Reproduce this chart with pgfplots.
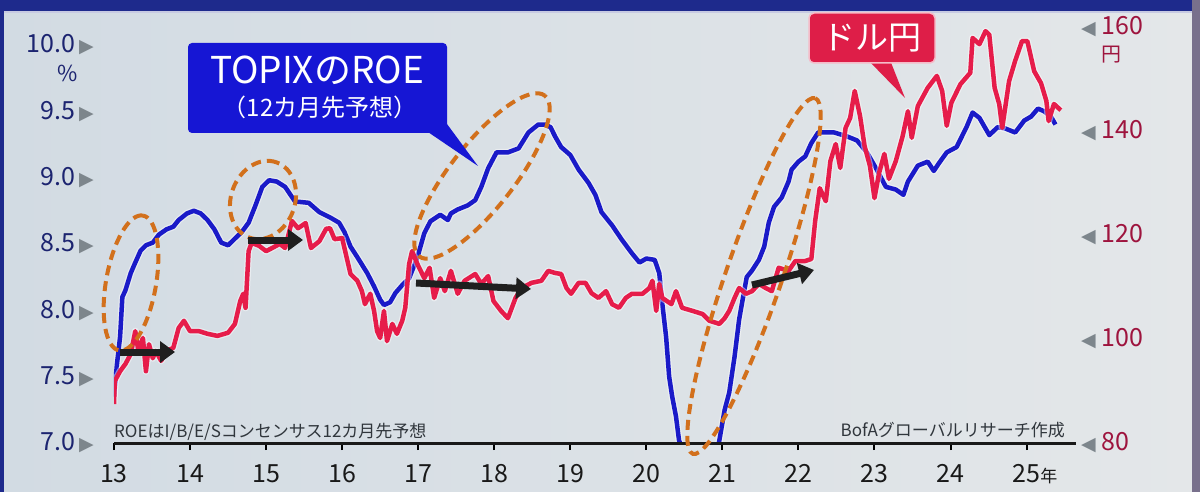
\documentclass[border=0pt]{standalone}
\usepackage{pgfplots}
\pgfplotsset{compat=1.18}
\usepackage{fontspec}
\setmainfont{Noto Sans CJK JP}
\newfontfamily\dejavu{DejaVu Sans}
\usetikzlibrary{arrows.meta}

\definecolor{roeblue}{RGB}{26,26,200}
\definecolor{yenred}{RGB}{230,28,74}
\definecolor{dashorange}{RGB}{210,112,28}
\definecolor{boxblue}{RGB}{22,22,212}
\definecolor{boxred}{RGB}{222,30,72}
\definecolor{bgl}{RGB}{210,219,227}
\definecolor{bgr}{RGB}{228,231,233}
\definecolor{navy}{RGB}{28,36,112}
\definecolor{maroon}{RGB}{158,20,62}
\definecolor{trigray}{RGB}{125,134,140}
\definecolor{notegray}{RGB}{48,54,60}
\definecolor{frame}{RGB}{30,42,140}
\definecolor{rframe}{RGB}{120,112,140}

\newcommand\rtri{{\dejavu\color{trigray}\fontsize{19}{19}\selectfont ▶}}
\newcommand\ltri{{\dejavu\color{trigray}\fontsize{19}{19}\selectfont ◀}}

\begin{document}
\begin{tikzpicture}
\begin{scope}[x=1pt,y=-1pt]
\useasboundingbox (0,0) rectangle (1200,492);
\clip (0,0) rectangle (1200,492);
\shade[left color=bgl,right color=bgr] (0,0) rectangle (1200,492);
\fill[frame] (0,0) rectangle (1200,11);
\fill[white!75!frame] (0,11) rectangle (1200,13);
\fill[frame] (0,0) rectangle (4,492);
\fill[rframe] (1192,0) rectangle (1200,492);
\end{scope}

% ROE axis (left)
\begin{axis}[
  at={(114pt,-443pt)}, anchor=south west,
  scale only axis, width=962pt, height=423pt,
  xmin=13, xmax=25.65, ymin=7, ymax=10.1875,
  axis line style={draw=none},
  xtick={13,14,15,16,17,18,19,20,21,22,23,24,25},
  xticklabels={13,14,15,16,17,18,19,20,21,22,23,24,{25\rlap{\raisebox{0pt}{\fontsize{17}{17}\selectfont 年}}}},
  xtick pos=bottom, tick align=outside, major tick length=7pt,
  xtick style={black, line width=2pt},
  xticklabel style={anchor=north, inner sep=0pt, yshift=-14pt, text=black!90},
  ytick={7,7.5,8,8.5,9,9.5,10},
  yticklabels={{7.0\hspace{4pt}\rtri},{7.5\hspace{4pt}\rtri},{8.0\hspace{4pt}\rtri},{8.5\hspace{4pt}\rtri},{9.0\hspace{4pt}\rtri},{9.5\hspace{4pt}\rtri},{10.0\hspace{4pt}\rtri}},
  ytick style={draw=none},
  yticklabel style={anchor=east, inner sep=0pt, xshift=-13pt, text=navy},
  tick label style={font=\fontsize{25}{28}\selectfont},
]
\addplot[roeblue, line width=4.5pt, line join=round, preaction={draw=white, line width=7pt, opacity=0.45}] coordinates {
(13.00,7.35)(13.04,7.60)(13.08,7.80)(13.11,8.10)(13.15,8.15)(13.22,8.28)(13.28,8.36)(13.35,8.45)(13.42,8.49)(13.51,8.51)(13.59,8.57)(13.69,8.61)(13.78,8.63)(13.85,8.68)(13.96,8.73)(14.05,8.75)(14.14,8.73)(14.23,8.68)(14.32,8.61)(14.41,8.51)(14.50,8.49)(14.59,8.54)(14.68,8.59)(14.77,8.66)(14.86,8.79)(14.95,8.93)(15.04,8.98)(15.14,8.97)(15.25,8.93)(15.38,8.82)(15.56,8.81)(15.70,8.74)(15.84,8.70)(15.96,8.66)(16.03,8.59)(16.11,8.48)(16.20,8.40)(16.33,8.28)(16.42,8.18)(16.50,8.08)(16.55,8.04)(16.63,8.06)(16.70,8.13)(16.79,8.19)(16.88,8.24)(16.99,8.40)(17.08,8.58)(17.16,8.67)(17.29,8.72)(17.39,8.68)(17.43,8.73)(17.52,8.76)(17.65,8.79)(17.75,8.83)(17.83,8.93)(17.92,9.07)(18.03,9.19)(18.18,9.19)(18.32,9.22)(18.45,9.34)(18.58,9.40)(18.67,9.40)(18.74,9.38)(18.80,9.31)(18.88,9.23)(19.00,9.17)(19.11,9.06)(19.24,8.96)(19.33,8.87)(19.41,8.74)(19.55,8.64)(19.68,8.53)(19.81,8.43)(19.91,8.36)(20.00,8.39)(20.11,8.38)(20.17,8.28)(20.21,8.05)(20.26,7.80)(20.30,7.50)(20.34,7.35)(20.39,7.20)(20.43,7.02)(20.60,6.75)(20.85,6.70)(20.96,7.02)(21.03,7.25)(21.09,7.38)(21.16,7.65)(21.22,7.93)(21.26,8.06)(21.32,8.25)(21.39,8.30)(21.48,8.38)(21.55,8.48)(21.61,8.66)(21.68,8.78)(21.78,8.85)(21.87,8.97)(21.91,9.06)(22.00,9.12)(22.09,9.16)(22.17,9.26)(22.26,9.34)(22.35,9.34)(22.47,9.34)(22.64,9.31)(22.77,9.28)(22.90,9.19)(23.03,9.06)(23.15,8.93)(23.28,8.91)(23.38,8.87)(23.44,8.97)(23.57,9.09)(23.70,9.12)(23.78,9.05)(23.85,9.11)(23.95,9.19)(24.08,9.23)(24.21,9.38)(24.29,9.49)(24.38,9.45)(24.51,9.32)(24.62,9.38)(24.72,9.37)(24.85,9.34)(24.97,9.43)(25.06,9.46)(25.15,9.52)(25.23,9.50)(25.32,9.46)(25.38,9.40)
};
\end{axis}

% USD/JPY axis (right)
\begin{axis}[
  at={(114pt,-443pt)}, anchor=south west,
  scale only axis, width=962pt, height=423pt,
  xmin=13, xmax=25.65, ymin=80, ymax=161.35,
  axis line style={draw=none},
  xtick=\empty,
  ytick={80,100,120,140,160},
  yticklabel pos=right,
  yticklabels={{\ltri\hspace{6pt}80},{\ltri\hspace{6pt}100},{\ltri\hspace{6pt}120},{\ltri\hspace{6pt}140},{\ltri\hspace{6pt}160}},
  ytick style={draw=none},
  yticklabel style={anchor=west, inner sep=0pt, xshift=5pt, text=maroon},
  tick label style={font=\fontsize{25}{28}\selectfont},
]
\addplot[yenred, line width=4.5pt, line join=round, preaction={draw=white, line width=7pt, opacity=0.45}] coordinates {
(13.00,87.5)(13.01,91.9)(13.08,93.8)(13.15,95.2)(13.22,97.1)(13.28,101.5)(13.32,97.7)(13.38,100.2)(13.42,93.8)(13.46,99.0)(13.51,96.3)(13.55,97.7)(13.62,95.8)(13.69,97.7)(13.78,98.3)(13.85,102.1)(13.92,103.5)(14.00,101.5)(14.12,101.5)(14.23,101.0)(14.36,100.6)(14.50,101.2)(14.59,102.9)(14.66,107.3)(14.70,108.7)(14.73,106.0)(14.77,116.9)(14.81,118.5)(14.91,117.9)(15.00,116.9)(15.08,117.5)(15.18,118.3)(15.25,117.5)(15.34,122.7)(15.42,121.3)(15.52,122.3)(15.59,117.5)(15.70,118.8)(15.79,121.2)(15.84,121.3)(15.90,119.2)(16.00,119.4)(16.07,115.0)(16.11,112.5)(16.20,111.2)(16.26,109.2)(16.30,106.7)(16.37,108.7)(16.42,105.4)(16.46,101.5)(16.50,100.2)(16.55,105.4)(16.59,99.6)(16.66,102.9)(16.72,101.0)(16.79,103.5)(16.83,106.0)(16.88,114.4)(16.92,116.9)(16.99,114.4)(17.08,111.7)(17.15,113.7)(17.21,107.9)(17.29,111.7)(17.35,109.2)(17.43,113.1)(17.52,108.7)(17.61,111.2)(17.75,112.5)(17.83,110.6)(17.92,112.1)(17.99,107.3)(18.09,105.4)(18.18,104.0)(18.28,107.9)(18.36,109.8)(18.49,110.8)(18.62,111.2)(18.71,113.1)(18.80,112.7)(18.88,112.5)(18.95,109.8)(19.01,108.7)(19.11,110.8)(19.20,110.8)(19.28,108.8)(19.37,107.9)(19.47,109.2)(19.55,106.7)(19.64,106.0)(19.73,107.9)(19.81,108.7)(19.95,108.7)(20.04,109.8)(20.08,111.2)(20.13,105.4)(20.17,110.6)(20.21,107.9)(20.33,106.7)(20.39,109.2)(20.47,106.0)(20.61,105.4)(20.74,104.8)(20.83,103.5)(20.92,103.1)(20.96,102.9)(21.03,104.0)(21.09,105.4)(21.16,107.9)(21.22,109.8)(21.31,108.7)(21.39,109.2)(21.48,110.6)(21.57,109.8)(21.65,109.2)(21.74,113.7)(21.87,113.1)(21.96,115.0)(22.09,115.0)(22.17,115.4)(22.22,122.7)(22.28,129.0)(22.36,126.5)(22.42,134.2)(22.49,137.5)(22.55,132.9)(22.62,140.6)(22.68,142.5)(22.74,147.7)(22.81,142.9)(22.87,137.1)(22.94,133.3)(23.00,127.1)(23.06,131.9)(23.13,135.6)(23.19,130.8)(23.28,134.2)(23.37,139.0)(23.44,143.8)(23.49,138.7)(23.57,144.8)(23.70,148.3)(23.82,150.6)(23.89,147.7)(23.95,141.0)(24.01,145.4)(24.13,149.0)(24.26,151.2)(24.29,157.9)(24.38,156.7)(24.46,159.2)(24.51,158.5)(24.58,148.3)(24.64,145.2)(24.68,140.6)(24.77,149.6)(24.85,153.5)(24.94,157.3)(25.01,157.3)(25.10,151.5)(25.19,149.2)(25.26,145.8)(25.29,141.9)(25.36,145.2)(25.45,144.0)
};
\end{axis}

\begin{scope}[x=1pt,y=-1pt]
% bottom axis line
\draw[line width=3pt, black!90] (114,443) -- (1076,443);
% unit labels
\node[text=navy, font=\fontsize{22}{24}\selectfont] at (68,73) {\%};
\node[text=maroon, font=\fontsize{20}{22}\selectfont] at (1111,55) {円};
% notes
\node[anchor=base west, inner sep=0pt, text=notegray, font=\fontsize{17}{19}\selectfont] at (114,437) {ROEはI/B/E/Sコンセンサス12カ月先予想};
\node[anchor=base east, inner sep=0pt, text=notegray, font=\fontsize{17}{19}\selectfont] at (1065,436) {BofAグローバルリサーチ作成};
% dashed ellipses
\begin{scope}[dashorange, line width=4pt, dash pattern=on 10pt off 6pt]
\draw[rotate around={80:(131,283)}] (131,283) ellipse [x radius=68.5pt, y radius=25pt];
\draw[rotate around={70:(263,200)}] (263,200) ellipse [x radius=40pt, y radius=32pt];
\draw[rotate around={52:(482,176)}] (482,176) ellipse [x radius=102pt, y radius=32pt];
\draw[rotate around={71:(754,276)}] (754,276) ellipse [x radius=188pt, y radius=28pt];
\end{scope}
% arrows
\begin{scope}[black!88, line width=7pt, -{Triangle[length=15pt, width=21pt]}]
\draw (120,352) -- (175,352);
\draw (248,240) -- (303,240);
\draw (416,283) -- (531,289);
\draw (752,285) -- (814,270);
\end{scope}
% blue label box
\fill[boxblue, rounded corners=4pt] (188,43) rectangle (447,133);
\fill[boxblue] (425,130) -- (447,124) -- (478,166) -- cycle;
\node[text=white, font=\fontsize{37}{40}\selectfont] at (317,70) {TOPIXのROE};
\node[text=white, font=\fontsize{24}{26}\selectfont] at (320,107) {（12カ月先予想）};
% red label box
\fill[boxred] (868,60) -- (890,60) -- (905,98) -- cycle;
\filldraw[fill=boxred, draw=white!70!boxred, line width=1.5pt, rounded corners=5pt] (809,13) rectangle (935,63);
\node[text=white, font=\fontsize{33}{36}\selectfont] at (872,38) {ドル円};
\end{scope}
\end{tikzpicture}
\end{document}
